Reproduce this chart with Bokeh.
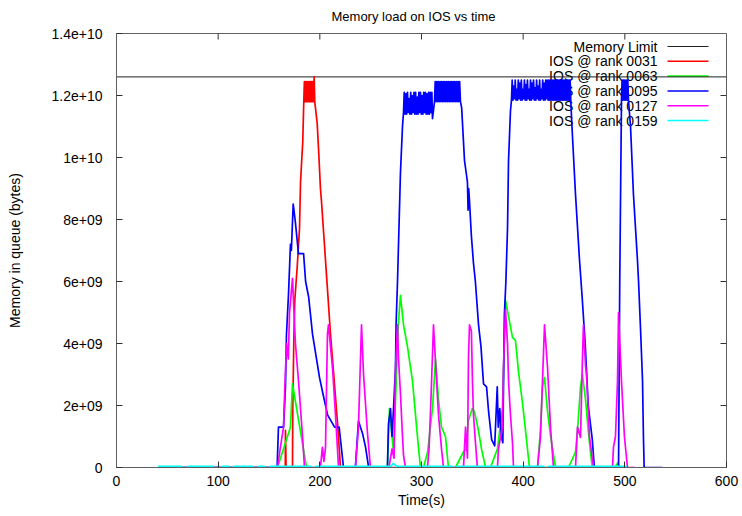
from bokeh.plotting import figure
from bokeh.models import Range1d, FixedTicker, Label
from bokeh.embed import file_html
from bokeh.resources import INLINE

SCALE = 1e9  # values below are in units of 1e9 bytes

x_ticks = [0, 100, 200, 300, 400, 500, 600]
y_ticks = [0, 2e9, 4e9, 6e9, 8e9, 1e10, 1.2e10, 1.4e10]
y_tick_labels = ["0", "2e+09", "4e+09", "6e+09", "8e+09", "1e+10", "1.2e+10", "1.4e+10"]

title_text = "Memory load on IOS vs time"
x_label = "Time(s)"
y_label = "Memory in queue (bytes)"

series_names = ["Memory Limit", "IOS @ rank 0031", "IOS @ rank 0063",
                "IOS @ rank 0095", "IOS @ rank 0127", "IOS @ rank 0159"]
series_colors = ["#202020", "#ff0000", "#00ff00", "#0000ff", "#ff00ff", "#00ffff"]

memory_limit = 12.6

# rank 0031 (red)
r0031_t = [42, 166, 166.2, 166.8, 173.1, 173.4, 174.4, 175.4, 177.7, 180, 181, 182, 183.2, 184.2,
           184.8, 185.4, 186, 186.6, 187.2, 187.8, 188.4, 189, 189.6, 190.2, 190.8, 191.4, 192,
           192.6, 193.2, 193.8, 194.4, 195,
           197.4, 199, 200.6, 201.6, 203.9, 207.2, 210.5, 214.4, 217.7, 220.3, 500]
r0031_v = [0, 0, 1.2, 0, 0, 1.9, 4.1, 5.4, 6.45, 7.7, 9.2, 9.8, 10.5, 11.8,
           12.45, 11.8, 12.45, 11.8, 12.45, 11.8, 12.45, 11.8, 12.45, 11.8, 12.45, 11.8, 12.45,
           11.8, 12.45, 11.8, 12.6, 11.8,
           11.1, 10.1, 9.0, 8.6, 7.5, 5.9, 4.3, 2.7, 1.3, 0, 0]

# rank 0063 (green)
r0063_t = [42, 158.4, 171.1, 173.1, 186.9, 266.5, 268.5, 271, 272.5, 275.4, 277.4, 279.3, 282.3,
           286.2, 291.1, 294.1, 297, 299, 302, 306, 310.8, 313.8, 316.7, 319.7, 323.6, 326.5,
           333.4, 341.3, 344, 346, 350, 352.1, 356, 359, 363, 367.9, 374.7, 379.6, 382.6, 389.5,
           392.4, 395.4, 399.3, 402.3, 406.2, 414.1, 417, 419, 421, 424, 427, 431.8, 444.6,
           451.5, 453.5, 456.4, 458.3, 461.3, 464, 466.2, 468, 490, 493, 495, 500]
r0063_v = [0, 0, 1.3, 2.7, 0, 0, 1.9, 1.0, 0.5, 3.0, 4.7, 5.55, 4.6,
           3.9, 2.8, 1.7, 0.65, 0, 0, 0.5, 1.9, 3.5, 2.2, 1.3, 1.0, 0,
           0, 0.5, 0.6, 1.5, 1.9, 1.8, 1.2, 0.6, 0, 0, 0.6, 1.9, 5.4, 4.2,
           4.1, 3.1, 2.1, 1.2, 0, 0, 1.2, 2.6, 2.9, 1.8, 1.0, 0, 0,
           0.5, 1.2, 2.6, 3.0, 2.2, 1.2, 0.5, 0, 0, 0.15, 0, 0]

# rank 0095 (blue)
r0095_t = [42, 158, 159.3, 164.3, 166.2, 167.2, 169.2, 171.1, 172, 173.8, 176, 179, 184, 186, 189,
           192.8, 199.7, 203.6, 207.6, 214.5, 219, 223.3, 235, 238, 242, 245, 248, 266.5, 267.5,
           269.5, 271, 272.5, 274.4, 275, 276.4, 279.3, 281.3, 282.3,
           283, 283.8, 284.6, 285.4, 286.2, 287, 287.8, 288.6, 289.4, 290.2, 291, 291.8, 292.6,
           293.4, 294.2, 295, 295.8, 296.6, 297.4, 298.2, 299, 299.8, 300.6, 301.4, 302.2, 303,
           303.8, 304.6, 305.4, 306.2, 307, 307.8, 308.6, 309.4, 310.2, 310.8, 312.8,
           313.5, 314.3, 315.1, 315.9, 316.7, 317.5, 318.3, 319.1, 319.9, 320.7, 321.5, 322.3,
           323.1, 323.9, 324.7, 325.5, 326.3, 327.1, 327.9, 328.7, 329.5, 330.3, 331.1, 331.9,
           332.7, 333.5, 334.3, 335.1, 335.9, 336.7, 337.5, 338.3,
           339.5, 342.3, 344, 345.2, 345.8, 346.4, 347.2, 349, 351.1, 353, 356.1, 358.5, 361, 364,
           366, 369, 372, 374.5, 375.5, 377, 378.5, 380, 381.5, 383, 384.6, 385.6, 387.5, 388.5,
           389.2, 390, 390.7, 391.5, 392.2, 393, 393.7, 394.5, 395.2, 396, 396.7, 397.5, 398.2,
           399, 399.7, 400.5, 401.2, 402, 402.7, 403.5, 404.2, 405, 405.7, 406.5, 407.2, 408,
           408.7, 409.5, 410.2, 411, 411.7, 412.5, 413.2, 414, 414.7, 415.5, 416.2, 417, 417.7,
           418.5, 419.2, 420, 420.7, 421.5, 422.2, 423, 423.7, 424.5,
           425.2, 425.9, 426.6, 427.3, 428, 428.7, 429.4, 430.1, 430.8, 431.5, 432.2, 432.9,
           433.6, 434.3, 435, 435.7, 436.4, 437.1, 437.8, 438.5, 439.2, 439.9, 440.6, 441.3, 442,
           442.7, 443.4, 444.1, 444.8, 445.5, 446.2, 446.8,
           448, 451.5, 455.4, 458, 461, 464, 468, 470, 493.8, 495, 496.7,
           497.3, 498, 498.7, 499.4, 500.1, 500.8, 501.5, 502.2, 502.9, 503.6,
           505.6, 508.5, 512.4, 513.5, 515.4, 517.4, 518.3, 519, 537]
r0095_v = [0, 0, 1.3, 1.3, 2.6, 4.3, 5.6, 7.2, 7.0, 8.5, 7.9, 6.9, 6.9, 6.0, 5.5,
           4.3, 2.9, 2.3, 1.7, 1.3, 1.3, 0, 0, 1.5, 1.1, 0.65, 0, 0, 1.4,
           1.9, 1.0, 1.9, 3.2, 4.6, 6.0, 9.5, 11.0, 11.45,
           12.1, 11.4, 12.05, 11.4, 12.1, 11.45, 11.9, 11.4, 12.1, 11.4, 12.0, 11.45, 12.1,
           11.4, 12.1, 11.4, 11.95, 11.4, 12.1, 11.45, 12.1, 11.4, 12.0, 11.4, 12.1, 11.45,
           12.1, 11.4, 12.05, 11.4, 12.1, 11.4, 12.1, 11.45, 12.1, 11.25, 11.8,
           12.45, 11.8, 12.45, 11.8, 12.45, 11.8, 12.45, 11.8, 12.45, 11.8, 12.45, 11.8,
           12.45, 11.8, 12.45, 11.8, 12.45, 11.8, 12.45, 11.8, 12.45, 11.8, 12.45, 11.8,
           12.45, 11.8, 12.45, 11.8, 12.45, 11.8, 12.45, 11.8,
           11.6, 9.9, 9.5, 9.2, 8.3, 9.0, 8.6, 7.5, 6.6, 6.0, 4.6, 3.9, 2.7, 2.6,
           1.8, 0.9, 0.7, 2.6, 1.3, 1.9, 1.0, 0.8, 4.9, 6.0, 7.7, 9.9, 11.5, 11.85,
           12.5, 11.85, 12.3, 11.9, 12.5, 11.85, 12.2, 11.85, 12.5, 11.9, 12.4, 11.85, 12.5,
           11.85, 12.2, 11.9, 12.5, 11.85, 12.35, 11.85, 12.5, 11.9, 12.2, 11.85, 12.5, 11.85,
           12.4, 11.9, 12.5, 11.85, 12.25, 11.85, 12.5, 11.9, 12.3, 11.85, 12.5, 11.85, 12.2,
           11.9, 12.5, 11.85, 12.4, 11.85, 12.5, 11.9, 12.5, 11.85,
           12.5, 11.85, 12.5, 11.85, 12.5, 11.85, 12.5, 11.85, 12.5, 11.85, 12.5, 11.85,
           12.5, 11.85, 12.5, 11.85, 12.5, 11.85, 12.5, 11.85, 12.5, 11.85, 12.5, 11.85, 12.5,
           11.85, 12.5, 11.85, 12.5, 11.85, 12.5, 11.85,
           11.0, 8.8, 6.7, 5.5, 4.0, 2.0, 0.9, 0, 0, 6.0, 11.85,
           12.5, 11.85, 12.5, 11.85, 12.5, 11.85, 12.5, 11.85, 12.5, 11.85,
           11.0, 8.8, 6.7, 6.0, 4.5, 2.8, 1.0, 0, 0]

# rank 0127 (magenta)
r0127_t = [42, 158.4, 161, 164.3, 165.5, 167.2, 169, 170.2, 173.1, 176, 179, 183, 184.9,
           200.6, 202.5, 204, 205.6, 207.5, 208.5, 212.5, 215.4, 218.4,
           235, 238, 241, 243, 246.9, 249.8,
           268, 271, 273, 274.4, 276.4, 277.4, 279.3, 281.3, 282.3, 284.2,
           305.9, 307.5, 309.4, 311.8, 313.8, 316.7, 319.7, 321.6,
           341.3, 343.3, 345.2, 346.2, 347.2, 349.1, 350.1, 351.1, 354, 355,
           374.7, 375.7, 379.6, 380.6, 382.6, 384.6, 385.6, 387.5, 389.5, 390.5,
           414.1, 417, 421, 424, 426.9, 429.8,
           451.5, 453.4, 456.4, 458.3, 459.3, 461.3, 462.3, 465.2, 469.2,
           487.9, 488.8, 490.8, 492.8, 493.8, 496.7, 499.6, 502.6, 510]
r0127_v = [0, 0, 0.6, 1.3, 2.5, 4.0, 3.5, 5.0, 6.1, 4.0, 2.8, 1.0, 0,
           0, 0.65, 0.2, 0.65, 4.3, 4.6, 3.2, 1.7, 0,
           0, 1.3, 4.6, 3.0, 1.1, 0,
           0, 0.6, 0.3, 3.2, 4.6, 3.5, 2.4, 1.0, 0.4, 0,
           0, 0.65, 2.3, 4.6, 3.4, 1.7, 0.6, 0,
           0, 1.3, 0.3, 3.5, 4.6, 4.4, 2.8, 1.7, 0.4, 0,
           0, 0.6, 1.3, 3.2, 5.1, 4.0, 2.8, 1.7, 0.8, 0,
           0, 0.97, 4.6, 3.2, 1.3, 0,
           0, 1.3, 0.97, 3.5, 4.6, 3.3, 3.0, 1.0, 0,
           0, 0.65, 1.0, 2.8, 5.0, 2.8, 1.0, 0, 0]

# rank 0159 (cyan) - stays near zero
r0159_t = [41, 64, 64.5, 69.5, 70, 95, 95.5, 103.5, 104, 110, 110.5, 114.5, 115, 134, 134.5,
           139.5, 140, 145, 145.5, 150.5, 151, 191, 191.5, 195.5, 196, 270, 272, 276, 300,
           330, 331, 334, 335, 420, 421, 424, 425, 502]
r0159_v = [0.04, 0.04, 0, 0, 0.04, 0.04, 0, 0, 0.04, 0.04, 0, 0, 0.04, 0.04, 0,
           0, 0.04, 0.04, 0, 0, 0.04, 0.04, 0, 0, 0.04, 0.04, 0.13, 0.04, 0.04,
           0.04, 0, 0, 0.04, 0.04, 0, 0, 0.04, 0.04]

FONT = "Liberation Sans"
FRAME_L, FRAME_R, FRAME_T, FRAME_B = 116, 16, 33, 49
W, H = 742, 516
FRAME_W, FRAME_H = W - FRAME_L - FRAME_R, H - FRAME_T - FRAME_B
FRAME_COLOR = "#606060"
TICK_COLOR = "#303030"
TICK_LEN = 6

x_min, x_max = x_ticks[0], x_ticks[-1]
y_min, y_max = y_ticks[0], y_ticks[-1]
x_per_px = (x_max - x_min) / FRAME_W
y_per_px = (y_max - y_min) / FRAME_H

p = figure(width=W, height=H, output_backend="svg", toolbar_location=None,
           x_range=Range1d(x_min, x_max), y_range=Range1d(y_min, y_max),
           min_border_left=FRAME_L, min_border_right=FRAME_R,
           min_border_top=FRAME_T, min_border_bottom=FRAME_B)
p.background_fill_color = "white"
p.border_fill_color = "white"
p.outline_line_color = FRAME_COLOR
p.grid.visible = False

p.title.text = title_text
p.title.align = "left"
p.title.offset = 215
p.title.vertical_align = "top"
p.title.standoff = 16
p.title.text_font = FONT
p.title.text_font_size = "13px"
p.title.text_font_style = "normal"
p.title.text_color = "black"

def style_axis(ax):
    ax.major_tick_in = TICK_LEN
    ax.major_tick_out = 0
    ax.minor_tick_in = 0
    ax.minor_tick_out = 0
    ax.axis_line_color = FRAME_COLOR
    ax.major_tick_line_color = TICK_COLOR
    ax.major_label_text_font = FONT
    ax.major_label_text_font_size = "14px"
    ax.major_label_text_color = "black"
    ax.axis_label_text_font = FONT
    ax.axis_label_text_font_size = "14px"
    ax.axis_label_text_font_style = "normal"
    ax.axis_label_text_color = "black"

xa = p.xaxis[0]
xa.ticker = FixedTicker(ticks=x_ticks)
style_axis(xa)
xa.axis_label = x_label
xa.major_label_standoff = 8
xa.axis_label_standoff = 3

ya = p.yaxis[0]
ya.ticker = FixedTicker(ticks=y_ticks)
ya.major_label_overrides = {t: l for t, l in zip(y_ticks, y_tick_labels)}
style_axis(ya)
ya.axis_label = y_label
ya.major_label_standoff = 14
ya.axis_label_standoff = 26

# mirrored tick marks on the top and right border (gnuplot style)
inner_x = x_ticks[1:-1]
inner_y = y_ticks[1:-1]
p.segment(x0=inner_x, x1=inner_x, y0=[y_max] * len(inner_x),
          y1=[y_max - TICK_LEN * y_per_px] * len(inner_x), line_color=TICK_COLOR, line_width=1)
p.segment(x0=[x_max - TICK_LEN * x_per_px] * len(inner_y), x1=[x_max] * len(inner_y),
          y0=inner_y, y1=inner_y, line_color=TICK_COLOR, line_width=1)

data = [
    ([x_min, x_max], [memory_limit, memory_limit]),
    (r0031_t, r0031_v),
    (r0063_t, r0063_v),
    (r0095_t, r0095_v),
    (r0127_t, r0127_v),
    (r0159_t, r0159_v),
]

# key (gnuplot style: right-aligned text, then sample line)
KEY_TEXT_RIGHT = 541
KEY_LINE_X0, KEY_LINE_X1 = 551, 592
KEY_ROW0, KEY_PITCH = 13, 14.8
key_ys = [y_max - (KEY_ROW0 + KEY_PITCH * i) * y_per_px for i in range(len(series_names))]
for i, name in enumerate(series_names):
    p.add_layout(Label(x=KEY_TEXT_RIGHT * x_per_px, y=key_ys[i], text=name,
                       text_align="right", text_baseline="middle", text_font=FONT,
                       text_font_size="14px", text_color="black", level="underlay"))
p.segment(x0=[KEY_LINE_X0 * x_per_px] * len(key_ys), x1=[KEY_LINE_X1 * x_per_px] * len(key_ys),
          y0=key_ys, y1=key_ys, line_color=series_colors,
          line_width=[1] + [1.5] * (len(key_ys) - 1))

for i, ((t, v), color) in enumerate(zip(data, series_colors)):
    p.line(x=t, y=[val * SCALE for val in v], line_color=color,
           line_width=1 if i == 0 else 1.7, line_join="round")

open("out.html", "w").write(file_html(p, INLINE))
